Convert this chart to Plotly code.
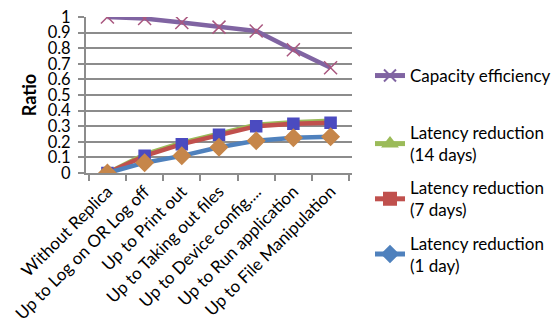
import plotly.graph_objects as go

categories = ["Without Replica", "Up to Log on OR Log off", "Up to Print out",
              "Up to Taking out files", "Up to Device config....",
              "Up to Run application", "Up to File Manipulation"]
capacity_eff = [1.0, 0.99, 0.965, 0.935, 0.91, 0.79, 0.675]
latency_14d = [0.0, 0.12, 0.195, 0.255, 0.31, 0.325, 0.335]
latency_7d = [0.0, 0.11, 0.185, 0.245, 0.30, 0.315, 0.322]
latency_1d = [0.0, 0.066, 0.11, 0.165, 0.207, 0.226, 0.233]

FONT = "Lato"
GRID = "#8c8c8c"

fig = go.Figure()

# (name, values, line colour, marker symbol, plot marker colour, marker size, legend)
series = [
    ("Capacity efficiency", capacity_eff, "#8064A2", "x-thin", "#A9577F", 13, "legend"),
    ("Latency reduction<br>(14 days)", latency_14d, "#9BBB59", "triangle-up", "#4BACC6", 3, "legend2"),
    ("Latency reduction<br>(7 days)", latency_7d, "#C0504D", "square", "#4B4BC0", 11, "legend2"),
    ("Latency reduction<br>(1 day)", latency_1d, "#4F81BD", "diamond", "#C6864A", 13, "legend2"),
]

for name, vals, lc, sym, mc, ms, lg in series:
    fig.add_trace(go.Scatter(
        x=categories, y=vals, mode="lines+markers", name=name,
        line=dict(color=lc, width=4.5),
        marker=dict(symbol=sym, color=mc, size=ms,
                    line=dict(color=mc, width=1.5)),
        showlegend=False,
    ))

# legend entries draw their marker in the series line colour
for i, (name, vals, lc, sym, mc, ms, lg) in enumerate(series):
    fig.add_trace(go.Scatter(
        x=[categories[0]], y=[None], mode="lines+markers", name=name,
        line=dict(color=lc, width=4.5),
        marker=dict(symbol=sym, color=lc, size=11,
                    line=dict(color=lc, width=2)),
        legend=lg, legendgroup=f"g{i}",
    ))

legend_style = dict(xanchor="left", yanchor="top", xref="container",
                    yref="container", maxheight=300,
                    font=dict(family=FONT, size=17), tracegroupgap=8,
                    itemsizing="constant", bgcolor="rgba(0,0,0,0)")

fig.update_layout(
    width=557, height=327,
    margin=dict(l=86, r=205, t=17, b=154, autoexpand=False),
    paper_bgcolor="white", plot_bgcolor="white",
    font=dict(family=FONT, size=17, color="black"),
    legend=dict(x=370 / 557, y=1 - 58 / 327, **legend_style),
    legend2=dict(x=370 / 557, y=1 - 115 / 327, **legend_style),
)
fig.update_xaxes(
    type="category", tickangle=-45, tickson="boundaries",
    ticks="outside", ticklen=6, tickcolor=GRID, tickwidth=2,
    showline=True, linecolor=GRID, linewidth=2,
    showgrid=False, tickfont=dict(family=FONT, size=17),
)
fig.update_yaxes(
    range=[0, 1], dtick=0.1, tickformat="~g",
    ticks="outside", ticklen=6, tickcolor=GRID, tickwidth=2,
    showline=True, linecolor=GRID, linewidth=2,
    showgrid=True, gridcolor=GRID, gridwidth=2, zeroline=False,
    ticklabelstandoff=4,
    title=dict(text="<b>Ratio</b>", font=dict(family=FONT, size=18), standoff=6),
    tickfont=dict(family=FONT, size=16.5),
)

fig.write_html("out.html")
